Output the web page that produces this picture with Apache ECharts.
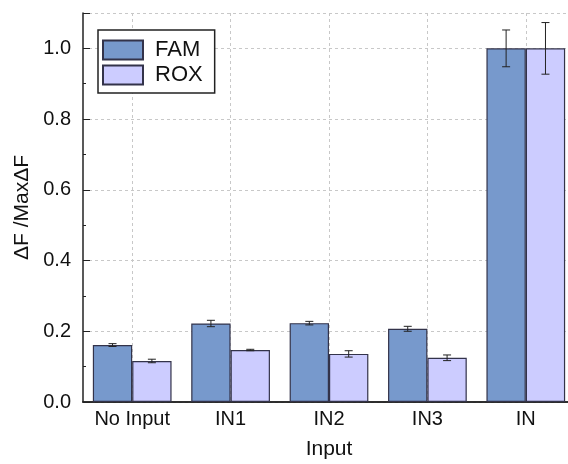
<!DOCTYPE html>
<html><head><meta charset="utf-8">
<script src="https://cdn.jsdelivr.net/npm/echarts@6/dist/echarts.min.js"></script>
<style>html,body{margin:0;padding:0;background:#fff}#c{width:568px;height:464px}</style>
</head><body><div id="c"></div>
<script>
const categories = ['No Input', 'IN1', 'IN2', 'IN3', 'IN'];
const famValues = [0.161, 0.222, 0.223, 0.207, 1.0];
const famErrors = [0.004, 0.009, 0.005, 0.007, 0.052];
const roxValues = [0.116, 0.147, 0.136, 0.125, 1.0];
const roxErrors = [0.005, 0.002, 0.009, 0.008, 0.073];
const yMin = 0, yMax = 1.1, yMajor = 0.2, yMinor = 0.1;

const FONT = 'Liberation Sans, Arial, sans-serif';
const AX = '#222';
const chart = echarts.init(document.getElementById('c'), null, {renderer: 'canvas'});

function errRender(side) {
  return function (params, api) {
    const i = api.value(0), v = api.value(1), e = api.value(2);
    const bw = api.size([1, 0])[0] * 0.4;
    const off = side * bw / 2;
    const t = api.coord([i, v + e]);
    const b = api.coord([i, v - e]);
    const x = t[0] + off, cap = 4;
    const st = {stroke: '#222', lineWidth: 1};
    return {type: 'group', children: [
      {type: 'line', shape: {x1: x, y1: t[1], x2: x, y2: b[1]}, style: st},
      {type: 'line', shape: {x1: x - cap, y1: t[1], x2: x + cap, y2: t[1]}, style: st},
      {type: 'line', shape: {x1: x - cap, y1: b[1], x2: x + cap, y2: b[1]}, style: st}
    ]};
  };
}

const yBase = {type: 'value', min: yMin, max: yMax, axisLabel: {show: false}, splitLine: {show: false}, axisLine: {show: false}};

chart.setOption({
  animation: false,
  backgroundColor: '#fff',
  grid: {left: 83, right: -7, top: 13, bottom: 62, containLabel: false, outerBoundsMode: 'none'},
  legend: {
    orient: 'vertical', left: 98, top: 30, icon: 'rect',
    itemWidth: 40, itemHeight: 19, itemGap: 3,
    padding: [9, 12, 7, 4], borderColor: AX, borderWidth: 1.5, backgroundColor: '#fff',
    textStyle: {fontSize: 22, color: '#111', fontFamily: FONT, padding: [0, 0, 0, 7]},
    data: ['FAM', 'ROX']
  },
  xAxis: [
    {
      type: 'category', data: categories, position: 'bottom',
      axisLine: {lineStyle: {color: AX, width: 1.5}},
      axisTick: {inside: true, length: 4, lineStyle: {color: AX, width: 1}},
      axisLabel: {fontSize: 20, color: '#111', margin: 7, fontFamily: FONT, interval: 0, hideOverlap: false},
      splitLine: {show: true, alignWithLabel: true, lineStyle: {color: '#c8c8c8', type: [3, 3], width: 1}},
      name: 'Input', nameLocation: 'middle', nameGap: 37,
      nameTextStyle: {fontSize: 21, color: '#111', fontFamily: FONT}
    },
    {
      type: 'category', data: categories, position: 'top',
      axisLine: {lineStyle: {color: AX, width: 1.5}},
      axisTick: {inside: true, alignWithLabel: true, length: 7, lineStyle: {color: AX, width: 1}},
      axisLabel: {show: false}, splitLine: {show: false}
    },
    {
      type: 'category', data: categories, position: 'top',
      axisLine: {show: false},
      axisTick: {inside: true, length: 4, lineStyle: {color: AX, width: 1}},
      axisLabel: {show: false}, splitLine: {show: false}
    }
  ],
  yAxis: [
    {
      type: 'value', min: yMin, max: yMax, interval: yMajor, position: 'left',
      axisLine: {show: true, lineStyle: {color: AX, width: 1.5}},
      axisTick: {show: true, inside: true, length: 7, lineStyle: {color: AX, width: 1}},
      axisLabel: {fontSize: 20, color: '#111', margin: 12, fontFamily: FONT,
        formatter: v => (v > 1.05 ? '' : v.toFixed(1))},
      splitLine: {show: true, lineStyle: {color: '#c8c8c8', type: [3, 3], width: 1}},
      name: 'ΔF /MaxΔF', nameLocation: 'middle', nameGap: 48,
      nameTextStyle: {fontSize: 21, color: '#111', fontFamily: FONT}
    },
    Object.assign({}, yBase, {interval: yMinor, position: 'left',
      axisTick: {show: true, inside: true, length: 3, lineStyle: {color: AX, width: 1}}}),
    Object.assign({}, yBase, {interval: yMajor, position: 'right',
      axisLine: {show: true, lineStyle: {color: AX, width: 1.5}},
      axisTick: {show: true, inside: true, length: 7, lineStyle: {color: AX, width: 1}}}),
    Object.assign({}, yBase, {interval: yMinor, position: 'right',
      axisTick: {show: true, inside: true, length: 3, lineStyle: {color: AX, width: 1}}})
  ],
  series: [
    {name: 'FAM', type: 'bar', data: famValues, barWidth: '40%', barGap: '0%',
      itemStyle: {color: '#7799cc', borderColor: '#33334a', borderWidth: 1.2}},
    {name: 'ROX', type: 'bar', data: roxValues, barWidth: '40%', barGap: '0%',
      itemStyle: {color: '#ccccff', borderColor: '#33334a', borderWidth: 1.2}},
    {name: 'FAM err', type: 'custom', renderItem: errRender(-1), z: 5,
      encode: {x: 0, y: 1},
      data: categories.map((c, i) => [i, famValues[i], famErrors[i]])},
    {name: 'ROX err', type: 'custom', renderItem: errRender(1), z: 5,
      encode: {x: 0, y: 1},
      data: categories.map((c, i) => [i, roxValues[i], roxErrors[i]])}
  ]
});
</script>
</body></html>
